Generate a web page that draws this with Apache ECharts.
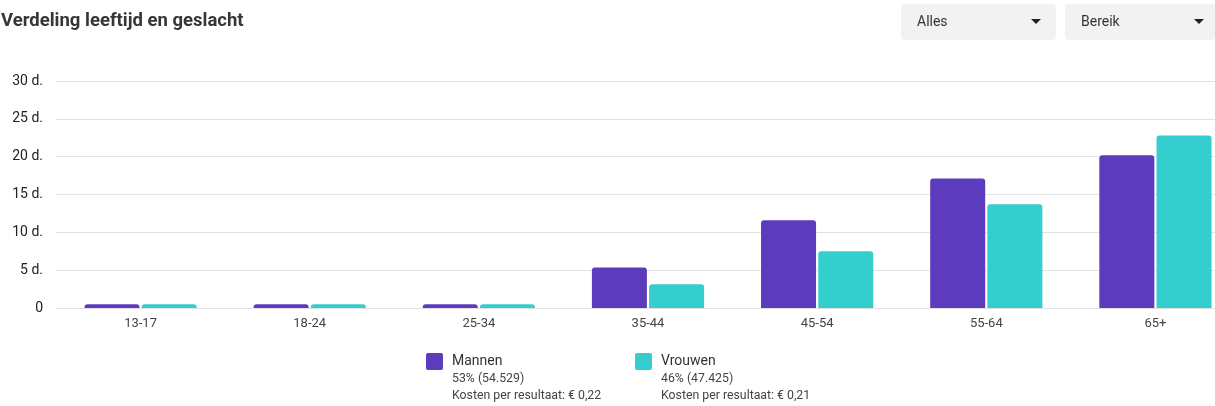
<!DOCTYPE html>
<html>
<head>
<meta charset="utf-8">
<script src="https://cdn.jsdelivr.net/npm/echarts@6/dist/echarts.min.js"></script>
<style>
html,body{margin:0;padding:0;background:#fff;overflow:hidden;width:1215px;height:406px;}
#chart{position:absolute;left:0;top:0;width:1240px;height:406px;}
</style>
</head>
<body>
<div id="chart"></div>
<script>
const categories = ['13-17','18-24','25-34','35-44','45-54','55-64','65+'];
const mannen = [0.5, 0.5, 0.5, 5.35, 11.6, 17.1, 20.2];
const vrouwen = [0.5, 0.5, 0.5, 3.15, 7.5, 13.7, 22.8];
const seriesNames = ['Mannen','Vrouwen'];
const seriesColors = ['#5c3bbd','#33cecd'];
const legendShare = ['53% (54.529)','46% (47.425)'];
const legendCost = ['Kosten per resultaat: € 0,22','Kosten per resultaat: € 0,21'];
const yTicks = [0,5,10,15,20,25,30];
const dropdowns = ['Alles','Bereik'];

const font = 'Roboto, "Noto Sans", sans-serif';
const chart = echarts.init(document.getElementById('chart'));

const graphics = [];
// dropdowns
const ddX = [901, 1065], ddW = [155, 150];
dropdowns.forEach((t,i)=>{
  graphics.push({type:'rect', shape:{x:ddX[i], y:4, width:ddW[i], height:36, r:4}, style:{fill:'#f2f2f2'}});
  graphics.push({type:'text', x:ddX[i]+16, y:22, style:{text:t, font:'14px '+font, fill:'#333', textVerticalAlign:'middle'}});
  const cx = ddX[i] + (i===0 ? 135 : 134);
  graphics.push({type:'polygon', shape:{points:[[cx-5,19],[cx+5,19],[cx,24]]}, style:{fill:'#222'}});
});
// legend
const lgX = [426, 635];
seriesNames.forEach((n,i)=>{
  graphics.push({type:'rect', shape:{x:lgX[i], y:353, width:17, height:17, r:2}, style:{fill:seriesColors[i]}});
  graphics.push({type:'text', x:lgX[i]+26, y:361, style:{text:n, font:'14px '+font, fill:'#333', textVerticalAlign:'middle'}});
  graphics.push({type:'text', x:lgX[i]+26, y:379, style:{text:legendShare[i], font:'12.3px '+font, fill:'#444', textVerticalAlign:'middle'}});
  graphics.push({type:'text', x:lgX[i]+26, y:396, style:{text:legendCost[i], font:'12.3px '+font, fill:'#444', textVerticalAlign:'middle'}});
});
// title
graphics.push({type:'text', x:1, y:21, style:{text:'Verdeling leeftijd en geslacht', font:'bold 18.5px '+font, fill:'#363636', textVerticalAlign:'middle'}});

chart.setOption({
  animation:false,
  grid:{left:56, right:0, top:81, bottom:98, containLabel:false},
  xAxis:{
    type:'category', data:categories,
    axisLine:{lineStyle:{color:'#e2e2e2', width:1}},
    axisTick:{show:false},
    axisLabel:{color:'#444', fontFamily:font, fontSize:13, margin:9}
  },
  yAxis:{
    type:'value', min:yTicks[0], max:yTicks[yTicks.length-1], interval:5,
    axisLine:{show:false}, axisTick:{show:false},
    splitLine:{lineStyle:{color:'#e2e2e2', width:1}},
    axisLabel:{color:'#222', fontFamily:font, fontSize:14, margin:13, formatter:v=> v===0 ? '0' : v+' d.'}
  },
  series:[
    {name:seriesNames[0], type:'bar', data:mannen, barWidth:55, barGap:'4%', itemStyle:{color:seriesColors[0], borderRadius:[3,3,0,0]}},
    {name:seriesNames[1], type:'bar', data:vrouwen, barWidth:55, barGap:'4%', itemStyle:{color:seriesColors[1], borderRadius:[3,3,0,0]}}
  ],
  graphic:graphics
});
</script>
</body>
</html>
